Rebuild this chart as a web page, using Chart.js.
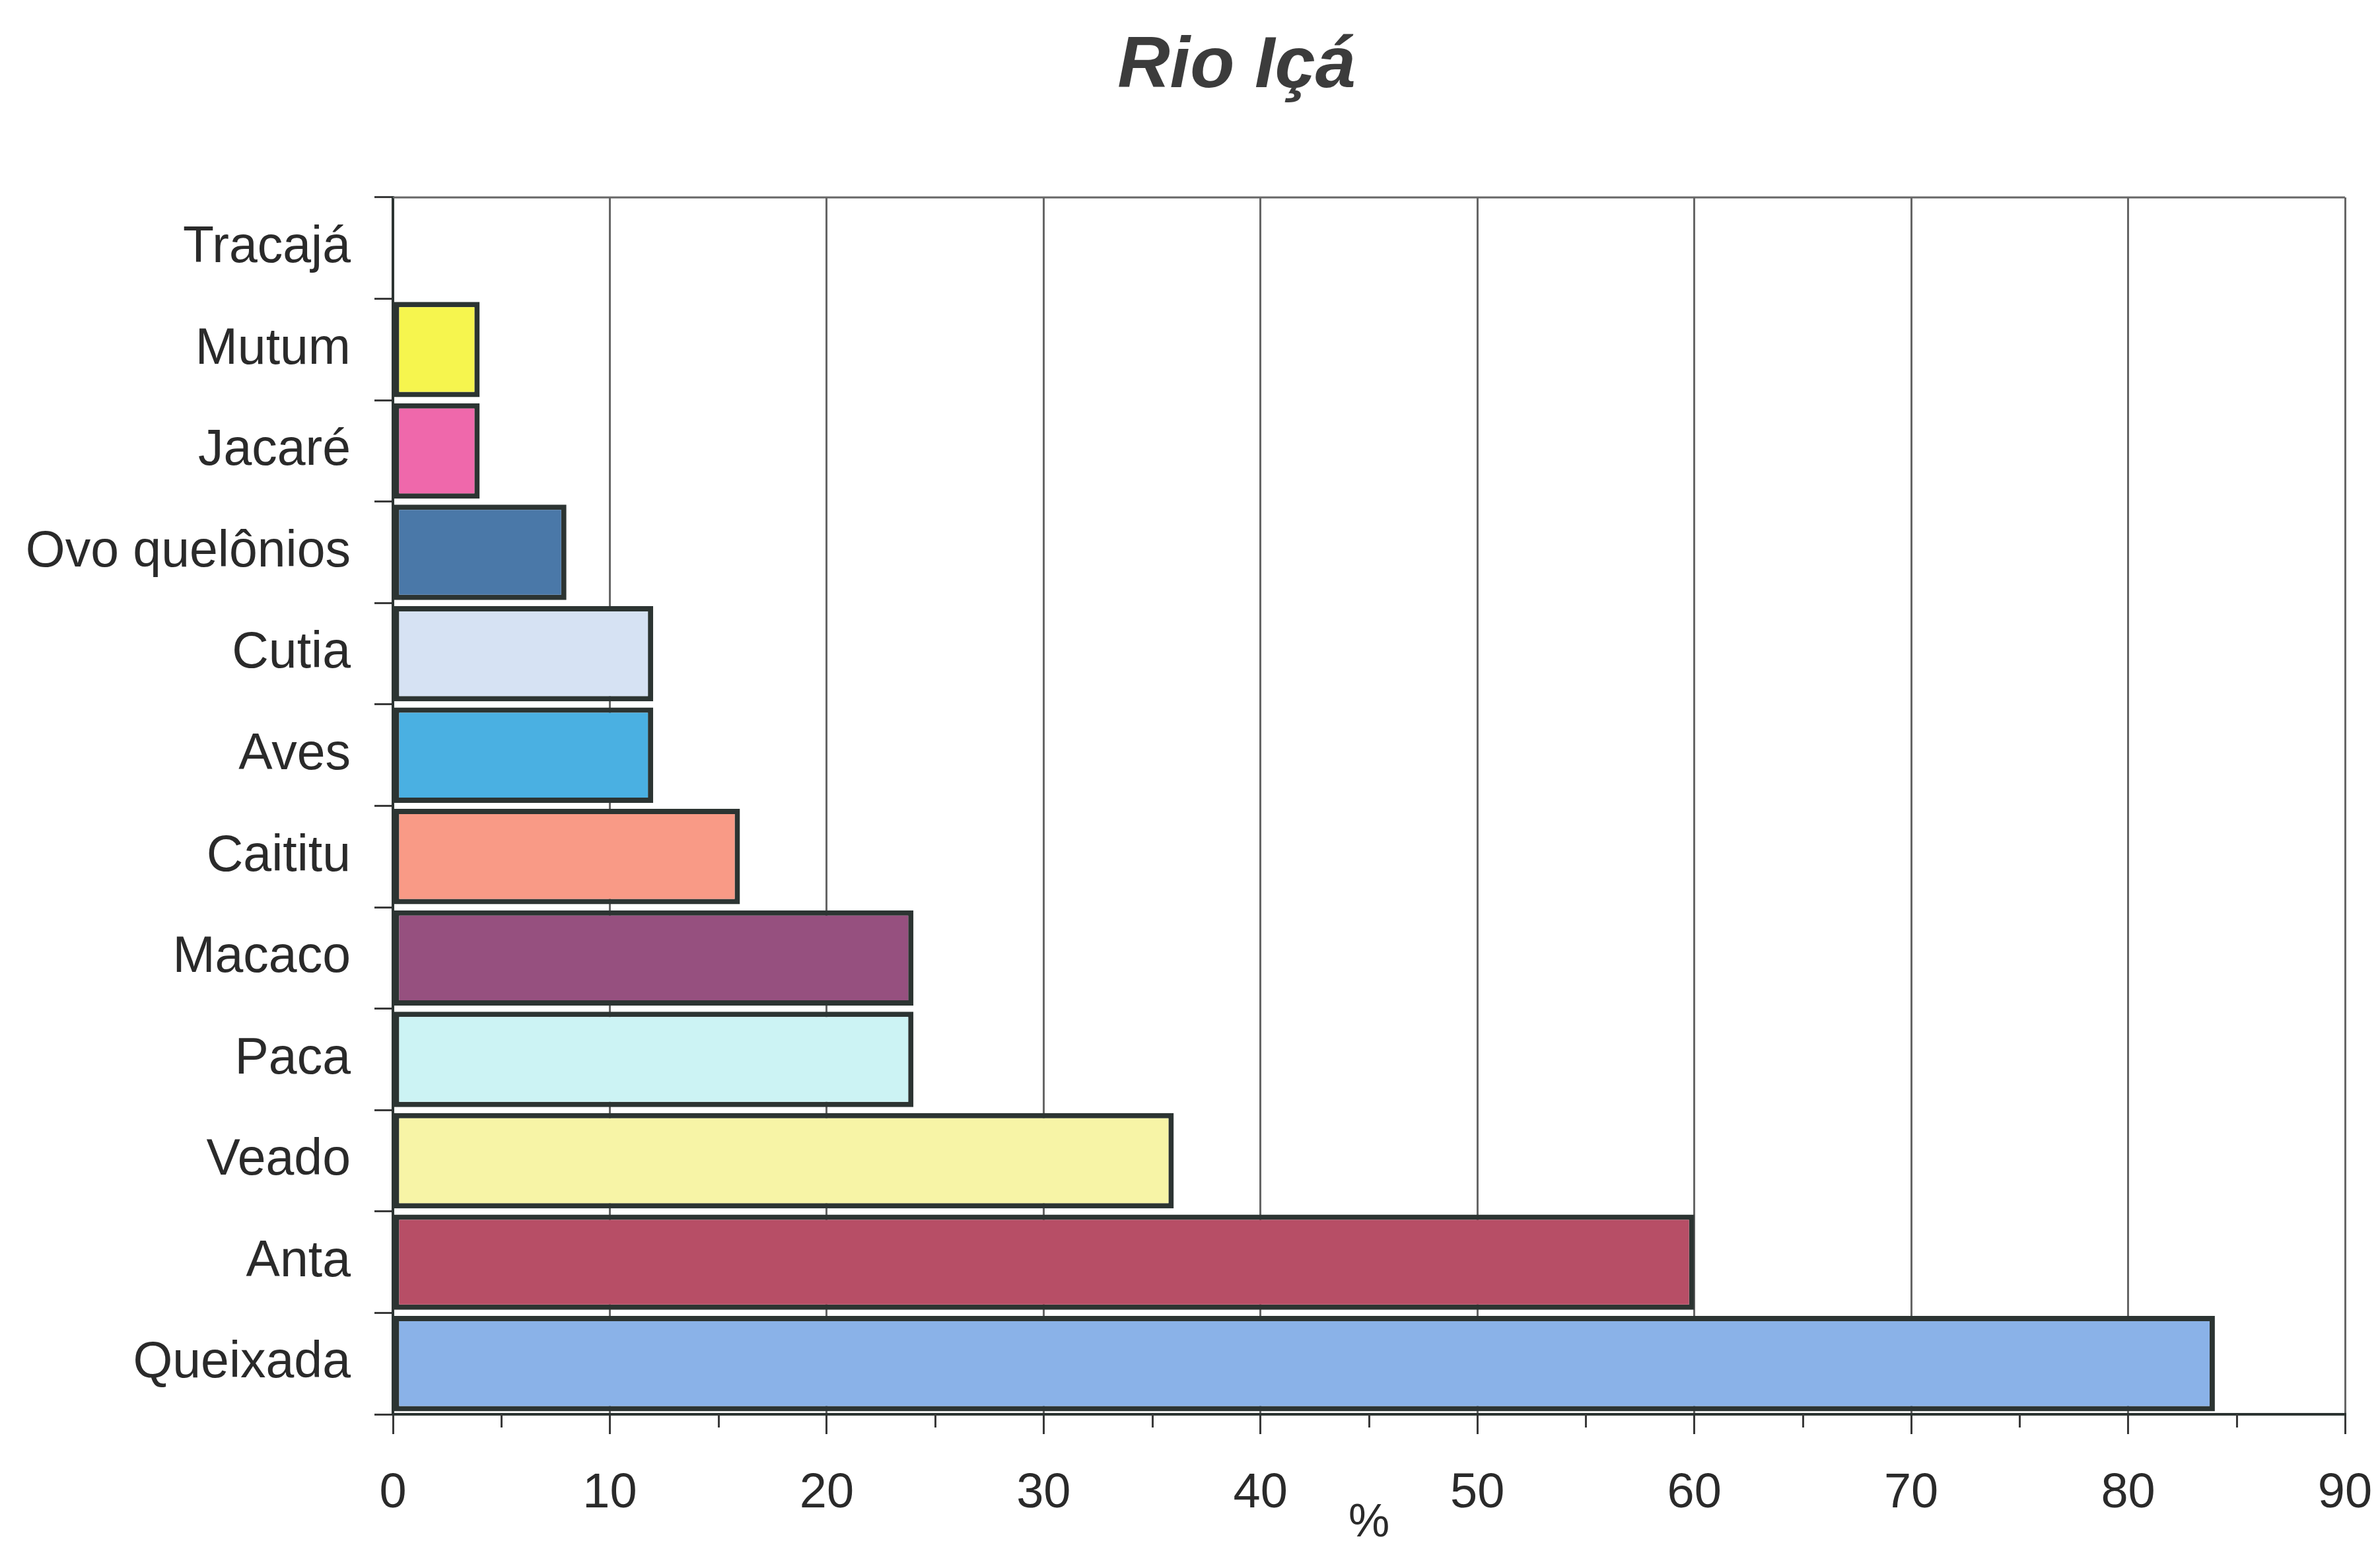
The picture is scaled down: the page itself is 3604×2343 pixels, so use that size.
<!DOCTYPE html>
<html>
<head>
<meta charset="utf-8">
<title>Rio Içá</title>
<script src="https://cdn.jsdelivr.net/npm/chart.js@4.4.1/dist/chart.umd.min.js"></script>
<style>
  html, body { margin: 0; padding: 0; background: #ffffff; }
  #wrap { width: 3604px; height: 2343px; }
</style>
</head>
<body>
<div id="wrap"><canvas id="chart" width="3604" height="2343"></canvas></div>
<script>
// Game species and share of households that hunt them (%)
const categories = ['Tracajá', 'Mutum', 'Jacaré', 'Ovo quelônios', 'Cutia', 'Aves',
                    'Caititu', 'Macaco', 'Paca', 'Veado', 'Anta', 'Queixada'];
const percentValues = [0, 4, 4, 8, 12, 12, 16, 24, 24, 36, 60, 84];
const barColors = ['#ffffff', '#f6f54e', '#ef68ab', '#4a78a8', '#d6e2f3', '#4ab0e2',
                   '#f99a86', '#96507f', '#ccf3f4', '#f7f4a6', '#b74e66', '#8ab2e8'];
const xTickValues = [0, 10, 20, 30, 40, 50, 60, 70, 80, 90];

const FONT = "'Liberation Sans', Arial, sans-serif";
const TITLE_SHIFT = 194;   // title is centred over the plot rather than the canvas

// Plot frame (top edge), title placement and the short minor ticks on the value axis
const framePlugin = {
  id: 'frame',
  afterLayout(chart) {
    if (chart.titleBlock) {
      chart.titleBlock.left += TITLE_SHIFT;
    }
  },
  beforeDatasetsDraw(chart) {
    const { ctx, chartArea } = chart;
    ctx.save();
    ctx.strokeStyle = '#666666';
    ctx.lineWidth = 3;
    ctx.beginPath();
    ctx.moveTo(chartArea.left, chartArea.top);
    ctx.lineTo(chartArea.right, chartArea.top);
    ctx.stroke();
    ctx.restore();
  },
  afterDraw(chart) {
    const { ctx } = chart;
    const xs = chart.scales.x;
    ctx.save();
    ctx.strokeStyle = '#3a3a3a';
    ctx.lineWidth = 3;
    xs.ticks.forEach(t => {
      if (t.value % 10 !== 0) {
        const px = Math.round(xs.getPixelForValue(t.value)) + 0.5;
        ctx.beginPath();
        ctx.moveTo(px, xs.top);
        ctx.lineTo(px, xs.top + 20);
        ctx.stroke();
      }
    });
    ctx.restore();
  }
};

new Chart(document.getElementById('chart'), {
  type: 'bar',
  data: {
    labels: categories,
    datasets: [{
      data: percentValues,
      backgroundColor: barColors,
      borderColor: '#2c3432',
      borderWidth: 8,
      borderSkipped: false,
      categoryPercentage: 1.0,
      barPercentage: 0.94
    }]
  },
  options: {
    indexAxis: 'y',
    responsive: false,
    animation: false,
    devicePixelRatio: 1,
    layout: { padding: { left: 0, right: 53, top: 0, bottom: 0 } },
    plugins: {
      legend: { display: false },
      tooltip: { enabled: false },
      title: {
        display: true,
        text: 'Rio Içá',
        color: '#3c3c3c',
        font: { family: FONT, size: 110, weight: 'bold', style: 'italic', lineHeight: 1.2 },
        padding: { top: 36, bottom: 131 }
      }
    },
    scales: {
      x: {
        type: 'linear',
        min: 0,
        max: 90,
        afterBuildTicks(scale) {
          const t = [];
          for (let v = 0; v <= 90; v += 5) t.push({ value: v });
          scale.ticks = t;
        },
        afterFit(scale) {
          scale.height = 201;
          scale.paddingLeft = 0;
          scale.paddingRight = 0;
        },
        ticks: {
          autoSkip: false,
          maxRotation: 0,
          padding: 46,
          color: '#2a2a2a',
          font: { family: FONT, size: 74 },
          callback: (v) => xTickValues.includes(v) ? String(v) : ''
        },
        grid: {
          drawOnChartArea: true,
          tickLength: 30,
          lineWidth: 3,
          color: (c) => (c.tick && c.tick.value % 10 === 0 && c.tick.value !== 0) ? '#666666' : 'rgba(0,0,0,0)',
          tickColor: (c) => (c.tick && c.tick.value % 10 === 0) ? '#3a3a3a' : 'rgba(0,0,0,0)'
        },
        border: { display: true, color: '#2c3432', width: 4 },
        title: {
          display: true,
          text: '%',
          color: '#2a2a2a',
          font: { family: FONT, size: 70, lineHeight: 1.0 },
          padding: { top: 0, bottom: 0 }
        }
      },
      y: {
        type: 'category',
        offset: true,
        afterFit(scale) { scale.width = 595; },
        ticks: {
          padding: 36,
          color: '#2a2a2a',
          font: { family: FONT, size: 77 }
        },
        grid: {
          offset: true,
          drawOnChartArea: false,
          tickLength: 28,
          lineWidth: 3,
          tickColor: '#3a3a3a'
        },
        border: { display: true, color: '#2c3432', width: 4 }
      }
    }
  },
  plugins: [framePlugin]
});
</script>
</body>
</html>
